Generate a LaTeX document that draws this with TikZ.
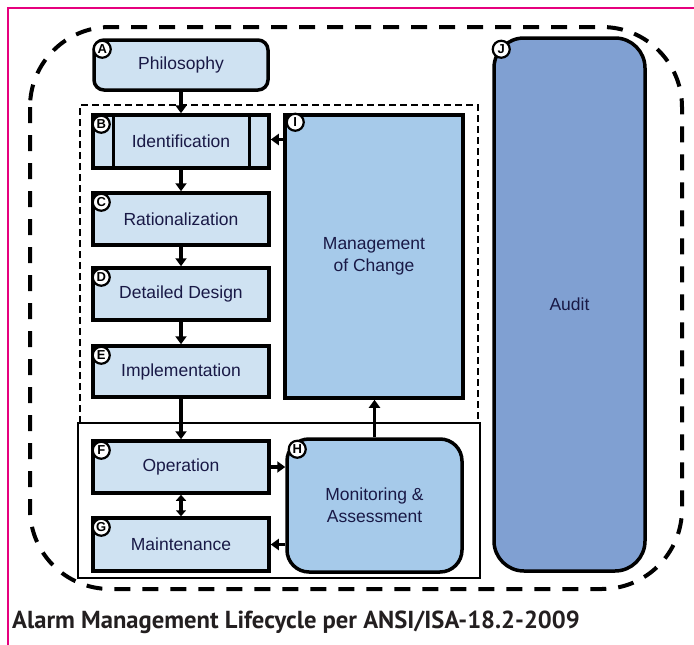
\documentclass[tikz,border=0pt]{standalone}
\usepackage{fontspec}
\setmainfont{Liberation Sans}
\newfontfamily\capfont{PT Sans}
\usetikzlibrary{arrows.meta}
\definecolor{lightbox}{RGB}{207,226,242}
\definecolor{midbox}{RGB}{166,202,234}
\definecolor{auditblue}{RGB}{128,160,210}
\definecolor{navy}{RGB}{25,25,70}
\definecolor{pinkline}{RGB}{230,0,126}
\definecolor{captext}{RGB}{35,31,32}
\begin{document}
\begin{tikzpicture}[x=1pt,y=-1pt,
  box/.style={draw=black,line width=3.5pt,fill=lightbox,inner sep=0pt,text=navy,
    font=\fontsize{17.5}{22}\selectfont,align=center,minimum width=176pt},
  tag/.style={circle,draw=black,fill=white,line width=2.2pt,minimum size=17pt,inner sep=0pt,
    font=\fontsize{13}{13}\selectfont\bfseries},
  arr/.style={line width=3.5pt,-{Triangle[width=11pt,length=8pt]}},
  dblarr/.style={line width=3.5pt,{Triangle[width=10pt,length=6pt]}-{Triangle[width=10pt,length=6pt]}},
  bigdash/.style={line width=4pt,dash pattern=on 16pt off 12pt,rounded corners=80pt},
  smalldash/.style={line width=2.2pt,dash pattern=on 7pt off 4pt}]
\useasboundingbox (0,0) rectangle (694,645);
\fill[white] (0,0) rectangle (694,645);
% pink frame
\draw[pinkline,line width=2pt] (8,645) -- (8,8) -- (694,8);
% big dashed boundary
\draw[bigdash] (30,27) rectangle (682,589);
% inner dashed and solid frames
\draw[smalldash] (80,423) -- (80,105) -- (478,105) -- (478,423);
\draw[line width=2pt] (78,423) rectangle (480,578);
% boxes
\node[box,rounded corners=10pt,minimum width=174pt,minimum height=50pt] (A) at (181,65) {Philosophy};
\node[box,minimum height=53pt] (B) at (181,141.5) {Identification};
\draw[line width=3pt] ([xshift=22pt]B.north west) -- ([xshift=22pt]B.south west);
\draw[line width=3pt] ([xshift=-21pt]B.north east) -- ([xshift=-21pt]B.south east);
\node[box,minimum height=52pt] (C) at (181,219) {Rationalization};
\node[box,minimum height=52pt] (D) at (181,294) {Detailed Design};
\node[box,minimum height=51pt] (E) at (181,371.5) {Implementation};
\node[box,minimum height=52pt] (F) at (181,467) {Operation};
\node[box,minimum height=53pt] (G) at (181,544.5) {Maintenance};
\node[box,fill=midbox,minimum width=178pt,minimum height=283pt] (I) at (374,256.5) {Management\\of Change};
\node[box,fill=midbox,rounded corners=22pt,minimum width=175pt,minimum height=133pt] (H) at (374.5,505.5) {Monitoring \&\\Assessment};
\node[box,fill=auditblue,rounded corners=30pt,minimum width=151pt,minimum height=533pt] (J) at (569.5,304.5) {Audit};
% arrows
\draw[arr] (A) -- (B);
\draw[arr] (B) -- (C);
\draw[arr] (C) -- (D);
\draw[arr] (D) -- (E);
\draw[arr] (E) -- (F);
\draw[dblarr] (F) -- (G);
\draw[arr] (F.east) -- (F.east -| H.west);
\draw[arr] (G.east -| H.west) -- (G.east);
\draw[arr] (H.north) -- (H.north |- I.south);
\draw[arr] ([yshift=2pt]I.west |- B.east) -- ([yshift=2pt]B.east);
% tags
\node[tag] (tA) at ([xshift=10pt,yshift=-11pt]A.north west) {A};
\node[tag] (tB) at ([xshift=10pt,yshift=-11pt]B.north west) {B};
\node[tag] (tC) at ([xshift=10pt,yshift=-11pt]C.north west) {C};
\node[tag] (tD) at ([xshift=10pt,yshift=-11pt]D.north west) {D};
\node[tag] (tE) at ([xshift=10pt,yshift=-11pt]E.north west) {E};
\node[tag] (tF) at ([xshift=10pt,yshift=-11pt]F.north west) {F};
\node[tag] (tG) at ([xshift=10pt,yshift=-11pt]G.north west) {G};
\node[tag] (tH) at ([xshift=12pt,yshift=-12pt]H.north west) {H};
\node[tag] (tI) at ([xshift=12pt,yshift=-9pt]I.north west) {I};
\node[tag] (tJ) at ([xshift=9pt,yshift=-13pt]J.north west) {J};
% caption
\node[anchor=base west,inner sep=0pt,text=captext,font=\capfont\bfseries\fontsize{24.6}{28}\selectfont] (cap) at (12,628) {Alarm Management Lifecycle per ANSI/ISA-18.2-2009};
\end{tikzpicture}
\end{document}
